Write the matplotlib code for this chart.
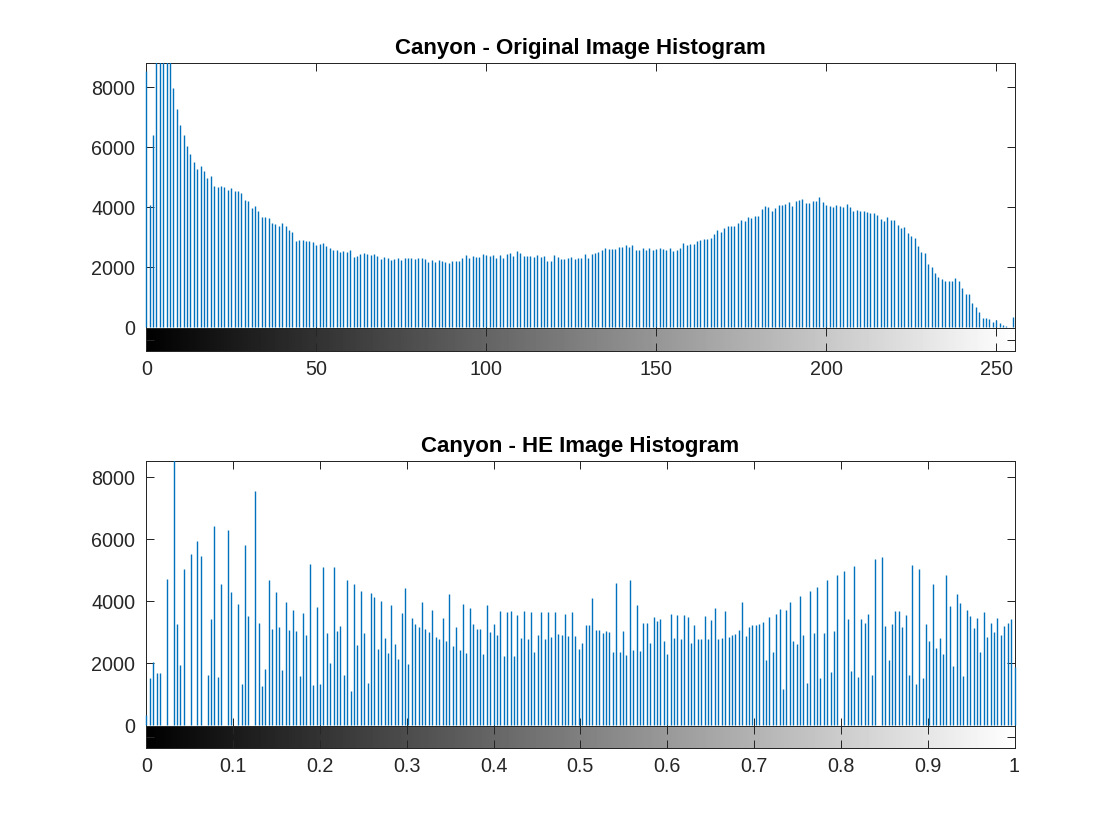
import matplotlib

matplotlib.use("Agg")
import matplotlib.pyplot as plt
import numpy as np
from matplotlib.transforms import Bbox

plt.rcParams["font.family"] = ["Liberation Sans", "DejaVu Sans"]

# bin counts, one per grey level; bins above the axis top are rough
ORIGINAL_COUNTS = [
    8555, 4077, 6410, 9500, 9500, 9500, 9500, 9500, 7977, 7277, 6744, 6410, 6044, 5777, 5511, 5277,
    5377, 5211, 4977, 5044, 4711, 4677, 4711, 4677, 4577, 4644, 4544, 4544, 4477, 4244, 4211, 3977,
    4044, 3877, 3677, 3677, 3644, 3477, 3444, 3377, 3477, 3377, 3244, 3177, 2877, 2911, 2911, 2877,
    2877, 2844, 2744, 2777, 2811, 2711, 2644, 2577, 2577, 2511, 2544, 2511, 2577, 2344, 2377, 2444,
    2477, 2444, 2411, 2444, 2377, 2277, 2344, 2311, 2244, 2277, 2311, 2244, 2311, 2311, 2311, 2277,
    2311, 2311, 2277, 2177, 2244, 2177, 2244, 2211, 2178, 2144, 2211, 2211, 2211, 2311, 2411, 2311,
    2378, 2344, 2344, 2444, 2411, 2378, 2411, 2311, 2411, 2311, 2444, 2478, 2378, 2544, 2478, 2378,
    2378, 2378, 2344, 2411, 2344, 2378, 2211, 2211, 2411, 2344, 2278, 2278, 2311, 2344, 2278, 2311,
    2311, 2444, 2311, 2444, 2478, 2511, 2578, 2644, 2611, 2611, 2611, 2678, 2678, 2744, 2678, 2744,
    2578, 2578, 2644, 2578, 2644, 2578, 2611, 2644, 2611, 2578, 2644, 2544, 2578, 2644, 2811, 2744,
    2778, 2778, 2878, 2911, 2944, 2944, 2978, 3111, 3244, 3178, 3311, 3378, 3378, 3378, 3478, 3578,
    3544, 3678, 3644, 3711, 3711, 3944, 4044, 4011, 3878, 3978, 4078, 4078, 4111, 4178, 4044, 4211,
    4244, 4278, 4144, 4144, 4211, 4211, 4344, 4178, 4078, 4044, 4011, 4078, 4044, 4011, 4111, 4011,
    3878, 3911, 3878, 3878, 3844, 3811, 3811, 3744, 3611, 3544, 3678, 3578, 3578, 3411, 3311, 3344,
    3144, 3044, 2978, 2711, 2511, 2478, 2111, 2011, 1811, 1678, 1611, 1544, 1544, 1544, 1644, 1544,
    1311, 1111, 1111, 811, 678, 511, 311, 311, 278, 178, 244, 144, 78, 44, 11, 344,
]
HE_COUNTS = [
    333, 1527, 2032, 1688, 1688, 0, 4719, 0, 8800, 3268, 1946, 5042, 0, 5526, 0, 5945,
    5461, 0, 1623, 3429, 6429, 1559, 4558, 0, 6300, 4300, 0, 3913, 1333, 5816, 3526, 0,
    7557, 3300, 1269, 1817, 4687, 3107, 4300, 3171, 1785, 3978, 3075, 3720, 3042, 1591, 3623, 2913,
    5203, 1301, 3816, 1333, 5106, 2978, 2010, 5106, 3042, 3204, 1623, 4687, 1107, 4558, 2591, 4332,
    2978, 1365, 4268, 4139, 2462, 4010, 2817, 2333, 3881, 2623, 2139, 3623, 4429, 1978, 3462, 3268,
    3171, 3978, 3107, 3010, 3720, 2849, 2784, 3462, 2720, 4236, 2559, 3171, 2430, 3913, 2333, 3784,
    3268, 3107, 3107, 2301, 3881, 3010, 3268, 2913, 3687, 2236, 3655, 3687, 2236, 3558, 2817, 3687,
    2784, 3655, 2365, 2913, 3655, 2784, 3655, 2849, 3655, 2946, 2913, 3590, 2881, 3655, 2881, 2462,
    2655, 3236, 3236, 4107, 3075, 3075, 2978, 3042, 3010, 2365, 4590, 2365, 3042, 2268, 4687, 2430,
    3881, 2397, 3300, 3300, 2655, 3494, 3365, 3429, 2720, 2301, 3590, 2817, 3558, 2784, 3558, 3494,
    2655, 3236, 2784, 2784, 3526, 2784, 3397, 3784, 2784, 2817, 3687, 2849, 2913, 2946, 3075, 3978,
    2881, 3171, 3236, 3236, 3268, 3333, 2107, 3494, 2365, 3590, 3752, 1172, 3720, 3978, 2720, 2623,
    4171, 2913, 1365, 4332, 2978, 4461, 1527, 2978, 4687, 1720, 3042, 4848, 0, 4977, 3429, 1752,
    5139, 1559, 3429, 3300, 3590, 1623, 5364, 0, 5429, 3204, 2107, 3268, 3687, 3687, 3171, 3558,
    1623, 5171, 1333, 5042, 1527, 3268, 2720, 4558, 2494, 2817, 2301, 4848, 3849, 1914, 4236, 3945,
    1591, 3720, 3526, 3139, 3462, 2365, 3655, 2849, 3300, 3010, 3462, 2913, 3204, 3300, 3429, 1881,
]
Y_TICKS = [0, 2000, 4000, 6000, 8000]
ORIGINAL_TICKS = [0, 50, 100, 150, 200, 250]
HE_TICKS = [0, 0.1, 0.2, 0.3, 0.4, 0.5, 0.6, 0.7, 0.8, 0.9, 1]
HE_TICK_LABELS = ["0", "0.1", "0.2", "0.3", "0.4", "0.5", "0.6", "0.7", "0.8", "0.9", "1"]

WIDTH, HEIGHT = 1120, 840
BLUE = "#0072BD"
DARK = "#262626"
LINE_PX = 0.72
TICK_PT = 5.6


def _axes_px(fig, left, top, right, bottom):
    return fig.add_axes([left / WIDTH, 1 - bottom / HEIGHT, (right - left) / WIDTH, (bottom - top) / HEIGHT])


def _style(ax):
    ax.tick_params(direction="in", length=TICK_PT, width=LINE_PX, color=DARK, labelcolor=DARK, labelsize=14.2)
    for spine in ax.spines.values():
        spine.set_linewidth(LINE_PX)
        spine.set_color(DARK)


def draw_histogram(fig, box, cbar_bottom, x, counts, xlim, ylim, xticks, xlabels, title):
    left, top, right, bottom = box
    ax = _axes_px(fig, left, top, right, bottom)
    stems = ax.vlines(x, 0, counts, color=BLUE, linewidth=1.0, zorder=3)
    # edge bins show at full width, only the top of the axes cuts the stems
    stems.set_clip_path(None)
    stems.set_clip_box(Bbox.from_extents(left - 2, HEIGHT - bottom, right + 2, HEIGHT - top))
    ax.set_xlim(*xlim)
    ax.set_ylim(*ylim)
    ax.set_xticks(xticks)
    ax.set_yticks(Y_TICKS)
    ax.set_xticklabels([])
    _style(ax)
    ax.tick_params(top=True, right=True)
    ax.tick_params(axis="y", pad=8)
    # the zero tick sits under the bottom spine in the reference
    ax.yaxis.get_major_ticks()[0].tick1line.set_visible(False)
    ax.yaxis.get_major_ticks()[0].tick2line.set_visible(False)
    ax.set_title(title, fontsize=16, fontweight="bold", color="black", pad=6.5)

    cbar = _axes_px(fig, left, bottom, right, cbar_bottom)
    cbar.imshow(np.linspace(0, 1, 256)[None, :], cmap="gray", aspect="auto", extent=[xlim[0], xlim[1], 0, 1])
    cbar.set_xticks(xticks)
    cbar.set_xticklabels(xlabels)
    cbar.set_yticks([0.5])
    cbar.set_yticklabels([])
    _style(cbar)
    cbar.tick_params(top=True, right=True)
    cbar.tick_params(axis="x", pad=6.5)


def main():
    fig = plt.figure(figsize=(WIDTH / 100, HEIGHT / 100), dpi=100)
    levels = np.arange(256)
    draw_histogram(
        fig, (146.3, 63.3, 1014.5, 328.3), 350.7, levels, ORIGINAL_COUNTS, (0, 255.4), (-30, 8800),
        ORIGINAL_TICKS, [str(t) for t in ORIGINAL_TICKS], "Canyon - Original Image Histogram",
    )
    draw_histogram(
        fig, (146.3, 461.3, 1014.5, 726), 748.3, levels / 255, HE_COUNTS, (0, 1), (-21, 8516),
        HE_TICKS, HE_TICK_LABELS, "Canyon - HE Image Histogram",
    )
    fig.savefig("out.png", dpi=100)


if __name__ == "__main__":
    main()
